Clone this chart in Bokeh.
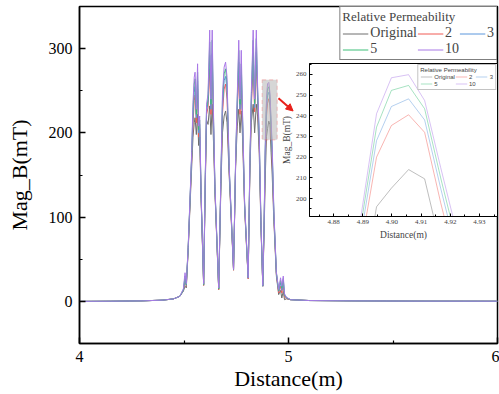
from bokeh.plotting import figure
from bokeh.models import (Legend, LegendItem, FixedTicker, Range1d, BoxAnnotation,
                          Arrow, NormalHead, ColumnDataSource, PrintfTickFormatter)
from bokeh.layouts import column
from bokeh.embed import file_html
from bokeh.resources import INLINE

# ---------------- data ----------------
distance = [4.000, 4.150, 4.300, 4.400, 4.450, 4.480, 4.497, 4.505, 4.511, 4.520,
            4.530, 4.537, 4.543, 4.549, 4.553, 4.559, 4.565, 4.570, 4.575, 4.582,
            4.594, 4.602, 4.608, 4.615, 4.623, 4.629, 4.635, 4.641, 4.648, 4.666,
            4.676, 4.684, 4.692, 4.699, 4.706, 4.716, 4.737, 4.747, 4.755, 4.762,
            4.768, 4.774, 4.780, 4.790, 4.807, 4.815, 4.822, 4.831, 4.838, 4.846,
            4.852, 4.860, 4.868, 4.877, 4.883, 4.8892, 4.8947, 4.8998, 4.9057, 4.9112,
            4.9167, 4.922, 4.930, 4.942, 4.953, 4.962, 4.968, 4.975, 4.981, 4.990,
            5.010, 5.100, 5.300, 5.600, 6.000]

mag_original = [0, 0.2, 0.6, 1.5, 3, 6, 12, 18, 16, 60,
                120, 160, 195, 212, 218, 198, 222, 185, 195, 120,
                19, 140, 215, 210, 232, 198, 234, 190, 130, 14,
                130, 200, 220, 226, 212, 150, 37, 160, 208, 228,
                200, 226, 195, 110, 27, 150, 212, 234, 200, 234,
                220, 175, 90, 18, 80, 150, 196, 205, 214, 209.5,
                177, 150, 95, 30, 8, 13, 4, 12, 2, 3,
                2, 1, 0.6, 0.3, 0.2]

mag_mu2 = [0, 0.2, 0.6, 1.5, 3, 6, 13, 24, 18, 62,
           125, 170, 210, 238, 245, 212, 252, 195, 205, 122,
           19, 145, 222, 230, 276, 222, 278, 210, 132, 14,
           135, 222, 252, 258, 240, 155, 37, 162, 228, 268,
           222, 255, 210, 112, 27, 155, 230, 280, 225, 280,
           240, 185, 92, 18, 86, 175, 220, 235.3, 240.5, 232,
           198, 168, 100, 32, 10, 18, 10, 20, 5, 3.5,
           2, 1, 0.6, 0.3, 0.2]

mag_mu3 = [0, 0.2, 0.6, 1.5, 3, 6, 13, 27, 19, 63,
           127, 173, 220, 248, 255, 218, 262, 200, 210, 124,
           20, 148, 226, 236, 292, 228, 294, 215, 134, 15,
           137, 230, 262, 267, 250, 158, 38, 164, 234, 284,
           228, 268, 215, 114, 28, 158, 236, 296, 230, 296,
           246, 190, 94, 18, 88, 181, 228, 244.5, 248.2, 238,
           205, 175, 103, 33, 12, 22, 13, 24, 7, 4,
           2, 1, 0.6, 0.3, 0.2]

mag_mu5 = [0, 0.2, 0.6, 1.5, 3, 6, 14, 30, 20, 64,
           129, 175, 228, 258, 264, 222, 272, 204, 215, 126,
           20, 150, 230, 240, 308, 234, 310, 220, 136, 15,
           139, 238, 270, 276, 258, 160, 38, 166, 240, 298,
           234, 282, 220, 116, 28, 160, 242, 310, 235, 312,
           252, 195, 96, 19, 90, 186, 234.5, 252.3, 254.7, 243.4,
           210, 180, 105, 34, 13, 25, 16, 27, 8, 4.5,
           2, 1, 0.6, 0.3, 0.2]

mag_mu10 = [0, 0.2, 0.6, 1.5, 3, 6, 15, 34, 21, 65,
            131, 178, 236, 266, 272, 228, 282, 208, 220, 128,
            21, 152, 234, 246, 322, 240, 322, 226, 138, 16,
            141, 245, 278, 284, 266, 162, 38, 168, 246, 310,
            240, 298, 225, 118, 28, 162, 248, 322, 240, 322,
            258, 200, 98, 19, 92, 190, 241, 258.4, 259.9, 247.4,
            215, 185, 108, 35, 14, 28, 18, 30, 9, 5,
            2, 1, 0.6, 0.3, 0.2]

series_labels = ["Original", "2", "3", "5", "10"]
series_values = [mag_original, mag_mu2, mag_mu3, mag_mu5, mag_mu10]
series_colors = ["#6e6e6e", "#f05a55", "#5b96dc", "#3cbf78", "#a878e6"]

main_x_ticks = [4, 5, 6]
main_x_minor = [4.5, 5.5]
main_y_ticks = [0, 100, 200, 300]
main_y_minor = [-50, 50, 150, 250]

inset_x_ticks = [4.88, 4.89, 4.90, 4.91, 4.92, 4.93, 4.94]
inset_x_minor = [4.875, 4.885, 4.895, 4.905, 4.915, 4.925, 4.935]
inset_y_ticks = [200, 210, 220, 230, 240, 250, 260]
inset_y_minor = [195, 205, 215, 225, 235, 245, 255, 265]

zoom_x = (4.8717, 4.9362)
zoom_y = (191.3, 265.3)
zoom_box_x = (4.874, 4.946)
zoom_box_y = (191.7, 263.0)
arrow_from = (4.952, 241.0)
arrow_to = (5.022, 226.0)

SERIF = "Liberation Serif"
SANS = "Liberation Sans"

# ---------------- main figure ----------------
p = figure(width=499, height=394, x_range=Range1d(4, 6), y_range=Range1d(-50, 350),
           output_backend="svg", toolbar_location=None,
           min_border_left=79, min_border_right=2, min_border_top=6, min_border_bottom=51)
p.grid.visible = False
p.outline_line_color = "black"
p.outline_line_width = 1.5
p.background_fill_color = "white"

src = ColumnDataSource(dict(x=distance, **{f"y{i}": v for i, v in enumerate(series_values)}))
renderers = []
for i, (lab, col) in enumerate(zip(series_labels, series_colors)):
    r = p.line("x", f"y{i}", source=src, line_color=col, line_width=1)
    renderers.append(r)

p.xaxis.ticker = FixedTicker(ticks=main_x_ticks, minor_ticks=main_x_minor)
p.yaxis.ticker = FixedTicker(ticks=main_y_ticks, minor_ticks=main_y_minor)
for ax in (p.xaxis[0], p.yaxis[0]):
    ax.axis_line_width = 1.5
    ax.major_tick_line_width = 1.5
    ax.minor_tick_line_width = 1.2
    ax.major_tick_in = 6
    ax.major_tick_out = 0
    ax.minor_tick_in = 3
    ax.minor_tick_out = 0
    ax.major_label_text_font = SERIF
    ax.major_label_text_font_size = "16px"
    ax.major_label_text_color = "black"
    ax.axis_label_text_font = SERIF
    ax.axis_label_text_font_size = "22px"
    ax.axis_label_text_font_style = "normal"
    ax.axis_label_text_color = "black"

p.xaxis.axis_label = "Distance(m)"
p.xaxis.major_label_standoff = 7
p.xaxis.axis_label_standoff = 1

p.yaxis.axis_label = "Mag_B(mT)"
p.yaxis.major_label_standoff = 7
p.yaxis.axis_label_standoff = 14

# zoom box and arrow
p.add_layout(BoxAnnotation(left=zoom_box_x[0], right=zoom_box_x[1],
                           bottom=zoom_box_y[0], top=zoom_box_y[1],
                           fill_color="#b4b4b4", fill_alpha=0.55,
                           line_color="#f06060", line_dash="4 3", line_width=1.2))
p.add_layout(Arrow(end=NormalHead(size=7, line_color="#e8201a", fill_color="#e8201a"),
                   x_start=arrow_from[0], y_start=arrow_from[1],
                   x_end=arrow_to[0], y_end=arrow_to[1],
                   line_color="#e8201a", line_width=2))

legend = Legend(items=[LegendItem(label=l, renderers=[r]) for l, r in zip(series_labels, renderers)],
                location="top_right", orientation="horizontal", ncols=3,
                title="Relative Permeability", title_text_font=SERIF,
                title_text_font_size="13px", title_text_font_style="normal",
                title_standoff=0,
                label_text_font=SERIF, label_text_font_size="14px",
                glyph_width=26, glyph_height=13, label_height=13, label_width=0,
                label_standoff=2, spacing=0, padding=2, margin=0,
                border_line_color="black", border_line_width=1,
                background_fill_color="white", background_fill_alpha=1)
p.add_layout(legend)

# ---------------- inset figure ----------------
inset = figure(width=269, height=187, x_range=Range1d(*zoom_x), y_range=Range1d(*zoom_y),
               output_backend="svg", toolbar_location=None,
               min_border_left=79, min_border_right=2, min_border_top=2, min_border_bottom=32,
               margin=(-333, 0, 0, 230), border_fill_alpha=0)
inset.grid.visible = False
inset.background_fill_color = "white"
inset.outline_line_color = "black"
inset.outline_line_width = 1
inset_renderers = []
for i, (lab, col) in enumerate(zip(series_labels, series_colors)):
    r = inset.line("x", f"y{i}", source=src, line_color=col, line_width=1, line_alpha=0.45)
    inset_renderers.append(r)

inset.xaxis.ticker = FixedTicker(ticks=inset_x_ticks, minor_ticks=inset_x_minor)
inset.yaxis.ticker = FixedTicker(ticks=inset_y_ticks, minor_ticks=inset_y_minor)
inset.xaxis.formatter = PrintfTickFormatter(format="%.2f")
for ax in (inset.xaxis[0], inset.yaxis[0]):
    ax.major_tick_in = 3
    ax.major_tick_out = 0
    ax.minor_tick_in = 2
    ax.minor_tick_out = 0
    ax.major_label_text_font = SERIF
    ax.major_label_text_font_size = "7px"
    ax.axis_label_text_font = SERIF
    ax.axis_label_text_font_size = "9.5px"
    ax.axis_label_text_font_style = "normal"
    ax.major_label_standoff = 3
    ax.axis_label_standoff = 3
inset.xaxis.axis_label = "Distance(m)"
inset.yaxis.axis_label = "Mag_B(mT)"
inset.yaxis.axis_label_standoff = 1

inset_legend = Legend(items=[LegendItem(label=l, renderers=[r]) for l, r in zip(series_labels, inset_renderers)],
                      location="top_right", orientation="horizontal", ncols=3,
                      title="Relative Permeability", title_text_font=SANS,
                      title_text_font_size="6px", title_text_font_style="normal",
                      title_standoff=0,
                      label_text_font=SANS, label_text_font_size="6px",
                      glyph_width=12, glyph_height=7, label_height=7, label_width=0,
                      label_standoff=2, spacing=0, padding=2, margin=1,
                      border_line_color="#888888", border_line_width=1,
                      background_fill_color="white", background_fill_alpha=1)
inset.add_layout(inset_legend)

layout = column(p, inset)
open("out.html", "w").write(file_html(layout, INLINE))
